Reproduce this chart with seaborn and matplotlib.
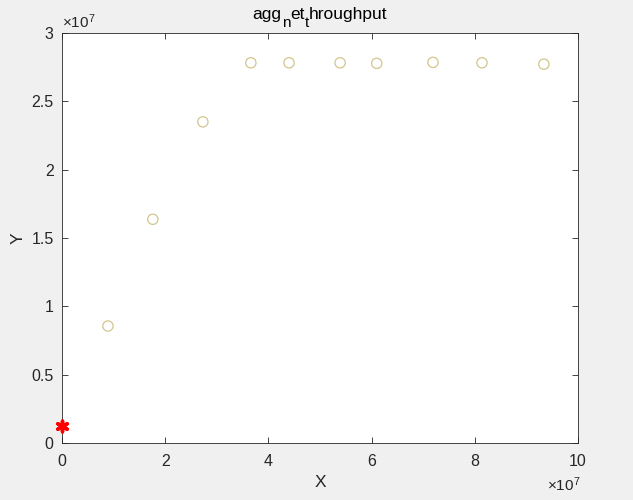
import numpy as np
import pandas as pd
import matplotlib
matplotlib.use("Agg")
import matplotlib.pyplot as plt
from matplotlib.ticker import FuncFormatter
import seaborn as sns

# values
x_vals = [0.89e7, 1.76e7, 2.73e7, 3.66e7, 4.40e7, 5.39e7, 6.10e7, 7.19e7, 8.14e7, 9.34e7]
y_vals = [0.856e7, 1.637e7, 2.350e7, 2.782e7, 2.782e7, 2.782e7, 2.778e7, 2.785e7, 2.782e7, 2.772e7]
x_red = [0.0]
y_red = [0.122e7]
x_ticks = [0, 2e7, 4e7, 6e7, 8e7, 10e7]
y_ticks = [0, 0.5e7, 1e7, 1.5e7, 2e7, 2.5e7, 3e7]
# title pieces: (text, is_subscript)
title_parts = [('agg', False), ('n', True), ('et', False), ('t', True), ('hroughput', False)]

sns.set_theme(style="white")
plt.rcParams['font.family'] = ['Liberation Sans', 'DejaVu Sans']
plt.rcParams['mathtext.fontset'] = 'custom'
plt.rcParams['mathtext.rm'] = 'Liberation Sans'
plt.rcParams['mathtext.it'] = 'Liberation Sans'

df = pd.DataFrame({'X': x_vals, 'Y': y_vals})
df_red = pd.DataFrame({'X': x_red, 'Y': y_red})

fig = plt.figure(figsize=(6.33, 5.0), dpi=100, facecolor='#f0f0f0')
ax = fig.add_axes([0.098, 0.114, 0.815, 0.82])
ax.set_facecolor('white')

sns.scatterplot(data=df, x='X', y='Y', marker='o', s=55, facecolor='none',
                edgecolor='#d2c68c', linewidth=0.9, ax=ax, legend=False)
sns.scatterplot(data=df_red, x='X', y='Y', marker=(6, 2, 0), s=60, color='red',
                edgecolor='red', linewidth=2.5, ax=ax, legend=False, zorder=5, clip_on=False)

ax.set_xlim(0, 10e7)
ax.set_ylim(0, 3e7)
ax.set_xticks(x_ticks)
ax.set_yticks(y_ticks)
ax.xaxis.set_major_formatter(FuncFormatter(lambda v, p: '%g' % (v / 1e7)))
ax.yaxis.set_major_formatter(FuncFormatter(lambda v, p: '%g' % (v / 1e7)))

# exponent labels, MATLAB style
ax.text(0.0, 1.005, r'$\times 10^{7}$', transform=ax.transAxes, fontsize=11,
        color='#262626', ha='left', va='bottom')
ax.text(1.005, -0.08, r'$\times 10^{7}$', transform=ax.transAxes, fontsize=11,
        color='#262626', ha='right', va='top')

for side in ['top', 'right', 'bottom', 'left']:
    ax.spines[side].set_visible(True)
    ax.spines[side].set_color('#262626')
    ax.spines[side].set_linewidth(0.6)
ax.tick_params(direction='in', length=4, width=0.6, colors='#262626',
               labelsize=11.5, top=True, right=True, bottom=True, left=True)
ax.tick_params(axis='x', pad=8)
ax.tick_params(axis='y', pad=6)

ax.set_xlabel('X', fontsize=12.5, color='#262626', labelpad=4)
ax.set_ylabel('Y', fontsize=12.5, color='#262626', labelpad=4)

# title drawn piece by piece so the subscripts keep nearly full size
fig.canvas.draw()
renderer = fig.canvas.get_renderer()
pieces = []
total_w = 0
for txt, sub in title_parts:
    t = fig.text(0, 0, txt, fontsize=11 if sub else 12.5, color='black')
    w = t.get_window_extent(renderer).width
    pieces.append((t, w, sub))
    total_w += w
x0 = (0.098 + 0.815 / 2) * fig.bbox.width - total_w / 2
base_y = 0.934 * fig.bbox.height + 14
for t, w, sub in pieces:
    t.set_transform(None)
    t.set_position((x0, base_y - (8 if sub else 0)))
    t.set_va('baseline')
    x0 += w

plt.savefig('out.png', dpi=100, facecolor=fig.get_facecolor())
